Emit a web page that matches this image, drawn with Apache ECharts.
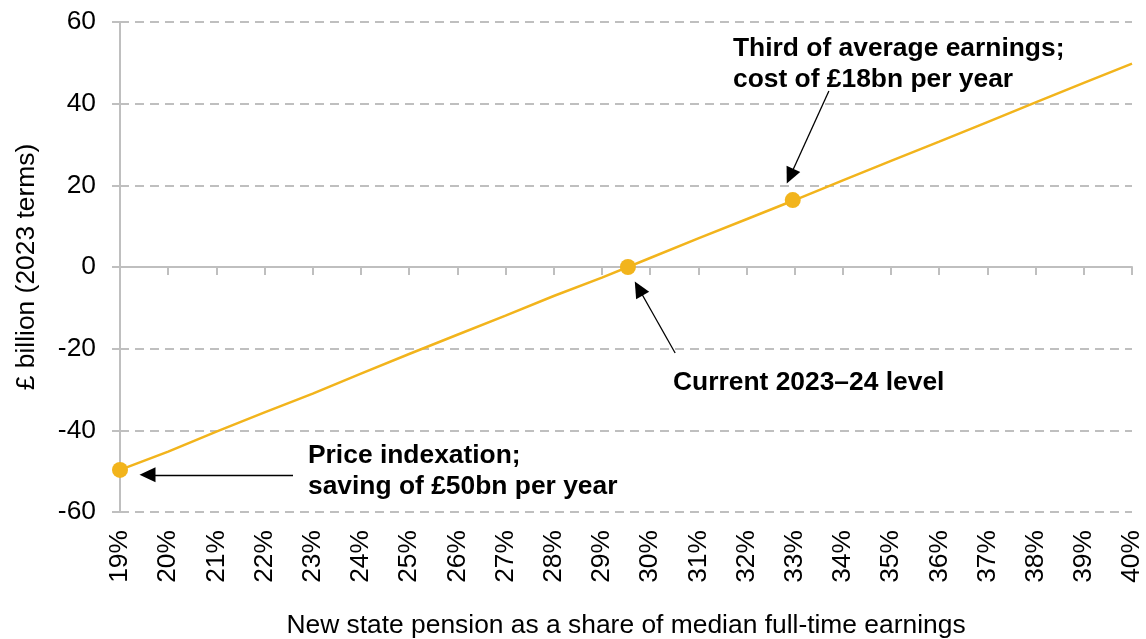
<!DOCTYPE html>
<html>
<head>
<meta charset="utf-8">
<script src="https://cdn.jsdelivr.net/npm/echarts@6/dist/echarts.min.js"></script>
<style>
html,body{margin:0;padding:0;background:#fff;}
#chart{width:1146px;height:639px;}
</style>
</head>
<body>
<div id="chart"></div>
<script>
// ---- data ----
var shareValues = [19, 20, 21, 22, 23, 24, 25, 26, 27, 28, 29, 30, 31, 32, 33, 34, 35, 36, 37, 38, 39, 40];
var costValues = [-49.7, -45.2, -40.3, -35.6, -31.0, -26.1, -21.3, -16.6, -11.9, -7.1, -2.6, 2.2, 7.0, 11.7, 16.4, 21.2, 26.0, 30.7, 35.5, 40.3, 45.1, 49.8];
var highlightShares = [19, 29.54, 32.96];
var highlightCosts = [-49.7, 0, 16.4];
var yTicks = [-60, -40, -20, 0, 20, 40, 60];
var xAxisTitle = 'New state pension as a share of median full-time earnings';
var yAxisTitle = '£ billion (2023 terms)';
var annotationThird = ['Third of average earnings;', 'cost of £18bn per year'];
var annotationCurrent = ['Current 2023\u201324 level'];
var annotationPrice = ['Price indexation;', 'saving of £50bn per year'];

var FONT = '"Liberation Sans", Arial, sans-serif';
var GREY = '#BFBFBF';
var YELLOW = '#F2B41C';
var FS = 26.4;

var lineData = shareValues.map(function (x, i) { return [x, costValues[i]]; });
var pointData = highlightShares.map(function (x, i) { return [x, highlightCosts[i]]; });

var chart = echarts.init(document.getElementById('chart'), null, {renderer: 'canvas'});

var annotStyle = {
  fill: '#000',
  font: 'bold ' + FS + 'px ' + FONT,
  lineHeight: 31
};

var option = {
  animation: false,
  backgroundColor: '#fff',
  grid: {left: 120, right: 14, top: 22, bottom: 127, containLabel: false, outerBoundsMode: 'none'},
  xAxis: [
    {
      type: 'value', min: 19, max: 40, interval: 1, position: 'bottom',
      axisLine: {show: false, onZero: false},
      axisTick: {show: false},
      splitLine: {show: false},
      axisLabel: {
        rotate: 90, margin: 18, fontSize: FS, color: '#000', fontFamily: FONT,
        formatter: function (v) { return v + '%'; }
      },
      name: xAxisTitle, nameLocation: 'middle', nameGap: 101,
      nameTextStyle: {fontSize: FS, color: '#000', fontFamily: FONT}
    },
    {
      type: 'value', min: 19, max: 40, interval: 1, position: 'bottom',
      axisLine: {show: true, onZero: true, lineStyle: {color: GREY, width: 2}},
      axisTick: {show: true, inside: false, length: 8, lineStyle: {color: GREY, width: 2}},
      axisLabel: {show: false},
      splitLine: {show: false}
    }
  ],
  yAxis: {
    type: 'value', min: yTicks[0], max: yTicks[yTicks.length - 1], interval: 20,
    axisLine: {show: true, onZero: false, lineStyle: {color: GREY, width: 2}},
    axisTick: {show: true, length: 8, lineStyle: {color: GREY, width: 2}},
    axisLabel: {fontSize: FS, color: '#000', fontFamily: FONT, margin: 24},
    splitLine: {show: true, lineStyle: {color: GREY, width: 2, type: [9, 6]}},
    name: yAxisTitle, nameLocation: 'middle', nameGap: 80, nameRotate: 90,
    nameTextStyle: {fontSize: FS, color: '#000', fontFamily: FONT}
  },
  series: [
    {
      type: 'line', data: lineData, xAxisIndex: 0, showSymbol: false, symbol: 'none',
      lineStyle: {color: YELLOW, width: 2.5}, z: 3, silent: true,
      markLine: {
        silent: true, animation: false,
        symbol: ['none', 'triangle'], symbolSize: [15, 16],
        lineStyle: {color: '#000', width: 1.3, type: 'solid'},
        label: {show: false},
        emphasis: {disabled: true},
        data: [
          [{coord: [22.59, -50.9]}, {coord: [19.571, -50.9]}],
          [{coord: [30.52, -21.06]}, {coord: [29.764, -5.27]}],
          [{coord: [33.71, 43.1]}, {coord: [32.905, 22.24]}]
        ]
      }
    },
    {
      type: 'scatter', data: pointData, xAxisIndex: 0, symbol: 'circle', symbolSize: 16,
      itemStyle: {color: YELLOW, opacity: 1}, z: 4, silent: true
    }
  ],
  graphic: [
    {type: 'text', left: 733, top: 33, style: Object.assign({text: annotationThird.join('\n')}, annotStyle)},
    {type: 'text', left: 673, top: 367, style: Object.assign({text: annotationCurrent.join('\n')}, annotStyle)},
    {type: 'text', left: 308, top: 440, style: Object.assign({text: annotationPrice.join('\n')}, annotStyle)}
  ]
};
chart.setOption(option);
</script>
</body>
</html>
